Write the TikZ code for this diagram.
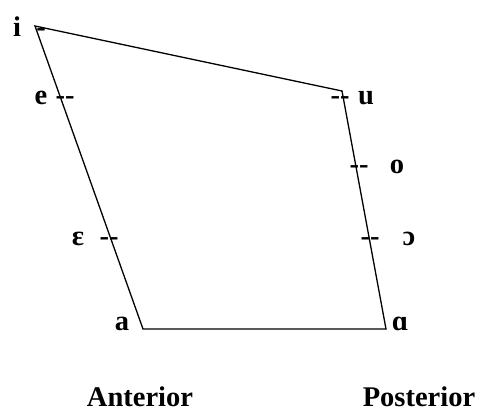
\documentclass[tikz,border=0pt]{standalone}
\usepackage{fontspec}
\setmainfont{Liberation Serif}
\usetikzlibrary{positioning}
\tikzset{
  vowel/.style={font=\fontsize{28.5}{34}\selectfont\bfseries,inner sep=0pt,anchor=base},
  tickmark/.style={vowel},
  sidelabel/.style={vowel},
  trapeze/.style={line width=1.3pt,draw=black,line join=miter}
}

\begin{document}
\begin{tikzpicture}[x=1pt,y=-1pt]
  \useasboundingbox (0,0) rectangle (480,412);
  % corners of the vowel trapezium
  \coordinate (ci) at (35,26);
  \coordinate (cu) at (342,91);
  \coordinate (cbacka) at (386,329);
  \coordinate (cfronta) at (143,329);
  \draw[trapeze] (ci) -- (cu) -- (cbacka) -- (cfronta) -- cycle;
  % ticks
  \node[tickmark] (ti) at (41,37) {-};
  \node[tickmark] (te) at (65,105) {-{}-};
  \node[tickmark] (teps) at (109,245) {-{}-};
  \node[tickmark] (tu) at (340,105) {-{}-};
  \node[tickmark] (to) at (359,173) {-{}-};
  \node[tickmark] (topen) at (370,245) {-{}-};
  % vowels
  \node[vowel] (i) at (17,37) {i};
  \node[vowel] (e) at (41,105) {e};
  \node[vowel] (eps) at (78,245) {ɛ};
  \node[vowel] (a) at (122,330) {a};
  \node[vowel] (u) at (366,105) {u};
  \node[vowel] (o) at (397,173) {o};
  \node[vowel] (open) at (409,245) {ɔ};
  \node[vowel] (backa) at (400,330) {ɑ};
  % sides
  \node[sidelabel] (ant) at (140,406) {Anterior};
  \node[sidelabel] (post) at (419,406) {Posterior};
\end{tikzpicture}
\end{document}
